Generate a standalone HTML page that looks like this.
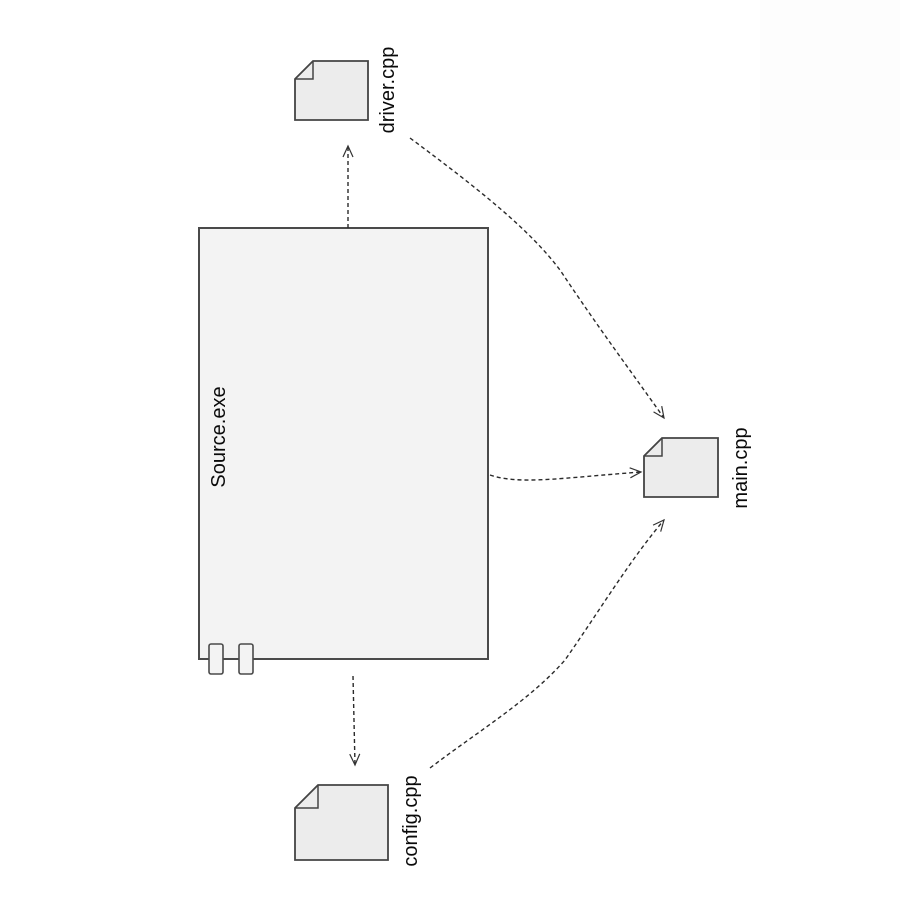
<!DOCTYPE html>
<html><head><meta charset="utf-8"><style>
html,body{margin:0;padding:0;background:#fff;}
svg{display:block;}
text{font-family:"Liberation Sans","DejaVu Sans",sans-serif;font-size:20px;fill:#0a0a0a;}
</style></head><body>
<svg width="900" height="900" viewBox="0 0 900 900" xmlns="http://www.w3.org/2000/svg">
<defs>
<marker id="a" markerWidth="14" markerHeight="14" refX="12" refY="7" orient="auto" markerUnits="userSpaceOnUse">
<path d="M1,2 L12,7 L1,12" fill="none" stroke="#333" stroke-width="1.2"/>
</marker>
</defs>
<rect x="760" y="0" width="140" height="160" fill="#fdfdfd"/>
<rect x="199" y="228" width="289" height="431" fill="#f3f3f3" stroke="#4a4a4a" stroke-width="2"/>
<rect x="209" y="644" width="14" height="30" rx="2" fill="#f3f3f3" stroke="#4a4a4a" stroke-width="1.6"/>
<rect x="239" y="644" width="14" height="30" rx="2" fill="#f3f3f3" stroke="#4a4a4a" stroke-width="1.6"/>
<text transform="translate(225,437) rotate(-90)" text-anchor="middle">Source.exe</text>
<path d="M313,61 L368,61 L368,120 L295,120 L295,79 Z" fill="#ececec" stroke="#444" stroke-width="1.8"/>
<path d="M295,79 L313,79 L313,61" fill="none" stroke="#444" stroke-width="1.5"/>
<text transform="translate(394,90) rotate(-90)" text-anchor="middle">driver.cpp</text>
<path d="M662,438 L718,438 L718,497 L644,497 L644,456 Z" fill="#ececec" stroke="#444" stroke-width="1.8"/>
<path d="M644,456 L662,456 L662,438" fill="none" stroke="#444" stroke-width="1.5"/>
<text transform="translate(747,468) rotate(-90)" text-anchor="middle">main.cpp</text>
<path d="M318,785 L388,785 L388,860 L295,860 L295,808 Z" fill="#ececec" stroke="#444" stroke-width="1.8"/>
<path d="M295,808 L318,808 L318,785" fill="none" stroke="#444" stroke-width="1.5"/>
<text transform="translate(417,821) rotate(-90)" text-anchor="middle">config.cpp</text>
<g fill="none" stroke="#2a2a2a" stroke-width="1.4" stroke-dasharray="4,3">
<path d="M348,228 L348,146" marker-end="url(#a)"/>
<path d="M353,676 L355,765" marker-end="url(#a)"/>
<path d="M490,475 C520,485 560,478 641,472" marker-end="url(#a)"/>
<path d="M410,138 C480,190 530,230 560,270 C600,330 630,370 664,418" marker-end="url(#a)"/>
<path d="M430,768 C480,730 530,700 565,660 C600,610 630,560 664,520" marker-end="url(#a)"/>
</g>
</svg>
</body></html>
